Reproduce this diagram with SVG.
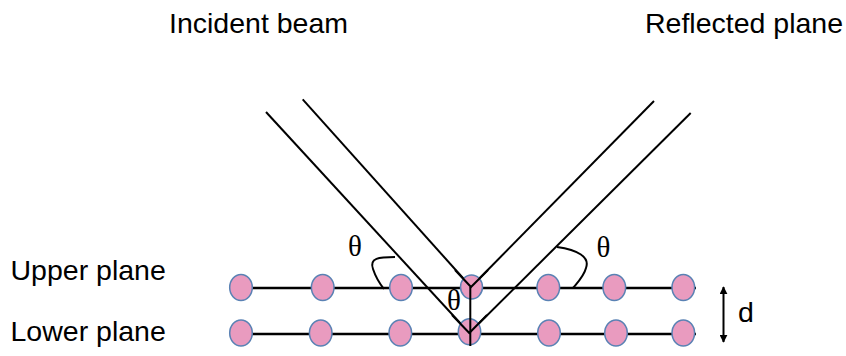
<svg xmlns="http://www.w3.org/2000/svg" width="846" height="356" viewBox="0 0 846 356">
<defs>
<style>
.lbl{font-family:"Liberation Sans",Arial,sans-serif;font-size:28.5px;fill:#000}
.th{font-family:"Liberation Serif","Times New Roman",serif;font-size:29px;fill:#000;text-anchor:middle}
.ln{stroke:#000;stroke-width:2;fill:none}
.pl{stroke:#000;stroke-width:2.3;fill:none}
.atom{fill:#E99BBF;stroke:#5A82B4;stroke-width:1.5}
</style>
<marker id="ah" viewBox="0 0 10 10" refX="9" refY="5" markerWidth="8" markerHeight="8" markerUnits="userSpaceOnUse" orient="auto-start-reverse">
<path d="M0,0 L10,5 L0,10 z" fill="#000"/>
</marker>
</defs>
<rect width="846" height="356" fill="#fff"/>
<g id="labels">
<text class="lbl" x="169" y="33">Incident beam</text>
<text class="lbl" x="645" y="33">Reflected plane</text>
<text class="lbl" x="10.5" y="280">Upper plane</text>
<text class="lbl" x="10.5" y="341">Lower plane</text>
</g>
<g id="connectors">
<line class="pl" x1="230" y1="288" x2="696" y2="288"/>
<line class="pl" x1="230" y1="334" x2="696" y2="334"/>
<line class="ln" x1="266" y1="112" x2="469.3" y2="333"/>
<line class="ln" x1="302.7" y1="99.3" x2="471" y2="287"/>
<line class="ln" x1="471" y1="287" x2="654" y2="101"/>
<line class="ln" x1="469.3" y1="333" x2="690.7" y2="113"/>
<path class="ln" d="M395,257 C379,257 369,258 373,269 C376,278 380,284 384,289"/>
<path class="ln" d="M557,247 C578,250 590,257 586,268 C584,276 578,282 573,288"/>
<line class="ln" x1="723.5" y1="287" x2="723.5" y2="342" marker-start="url(#ah)" marker-end="url(#ah)"/>
</g>
<g id="upper-plane">
<ellipse class="atom" cx="241" cy="287.5" rx="11.3" ry="13"/>
<ellipse class="atom" cx="322.7" cy="287.5" rx="11.3" ry="13"/>
<ellipse class="atom" cx="401" cy="287.5" rx="11.3" ry="13"/>
<ellipse class="atom" cx="471.5" cy="287" rx="11" ry="12"/>
<ellipse class="atom" cx="548.3" cy="287.5" rx="11.3" ry="13"/>
<ellipse class="atom" cx="614.3" cy="287.5" rx="11.3" ry="13"/>
<ellipse class="atom" cx="683.3" cy="287.5" rx="11.3" ry="13"/>
</g>
<g id="lower-plane">
<ellipse class="atom" cx="241" cy="333" rx="11.3" ry="13"/>
<ellipse class="atom" cx="320.7" cy="333" rx="11.3" ry="13"/>
<ellipse class="atom" cx="400.3" cy="333" rx="11.3" ry="13"/>
<ellipse class="atom" cx="469.5" cy="331.7" rx="11.2" ry="13"/>
<ellipse class="atom" cx="549" cy="333" rx="11.3" ry="13"/>
<ellipse class="atom" cx="616" cy="333" rx="11.3" ry="13"/>
<ellipse class="atom" cx="683.3" cy="333" rx="11.3" ry="13"/>
</g>
<g id="vertex-lines">
<polyline class="ln" points="455,270 471,287 488,270"/>
<polyline class="ln" points="452,315 469.3,333 487,315"/>
<line class="ln" x1="470.3" y1="287" x2="470.3" y2="346"/>
</g>
<g id="angles">
<text class="th" x="355" y="256">θ</text>
<text class="th" x="454" y="310">θ</text>
<text class="th" x="603.5" y="256.5">θ</text>
<text class="lbl" x="738" y="322">d</text>
</g>
</svg>
